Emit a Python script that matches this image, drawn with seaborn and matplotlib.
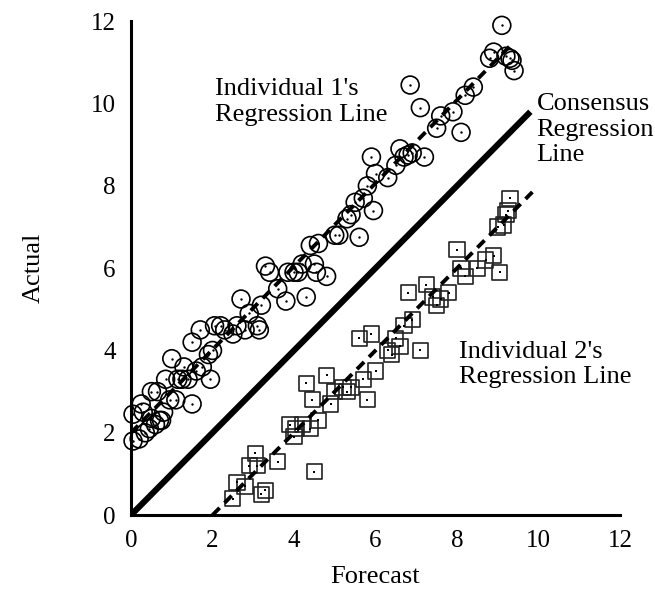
import matplotlib
matplotlib.use("Agg")
import matplotlib.pyplot as plt
import seaborn as sns
import pandas as pd

sns.set_theme(style="white")
plt.rcParams['font.family'] = ['Liberation Serif', 'DejaVu Serif']
plt.rcParams['text.color'] = 'black'
plt.rcParams['axes.labelcolor'] = 'black'
plt.rcParams['xtick.color'] = 'black'
plt.rcParams['ytick.color'] = 'black'

# Individual 1 (circles)
ind1_x = [0.05, 0.05, 0.2, 0.25, 0.3, 0.35, 0.45, 0.5, 0.5, 0.6, 0.65, 0.7, 0.75, 0.8, 0.85,
          0.95, 1.0, 1.1, 1.15, 1.25, 1.3, 1.4, 1.5, 1.5, 1.6, 1.7, 1.75, 1.9, 1.95, 2.0,
          2.05, 2.2, 2.3, 2.5, 2.6, 2.7, 2.8, 2.9, 3.1, 3.15, 3.2, 3.3, 3.4, 3.6, 3.8,
          3.85, 4.0, 4.1, 4.2, 4.3, 4.4, 4.5, 4.55, 4.6, 4.8, 5.0, 5.1, 5.3, 5.4, 5.5,
          5.6, 5.7, 5.8, 5.9, 5.95, 6.0, 6.3, 6.5, 6.6, 6.7, 6.8, 6.85, 6.9, 7.1, 7.2,
          7.5, 7.6, 7.9, 8.1, 8.2, 8.4, 8.8, 8.9, 9.1, 9.2, 9.3, 9.35, 9.4]
ind1_y = [1.8, 2.45, 1.85, 2.7, 2.5, 2.0, 2.1, 3.0, 2.35, 2.2, 3.0, 2.3, 2.3, 2.5, 3.3,
          2.8, 3.8, 2.8, 3.3, 3.3, 3.6, 3.3, 4.2, 2.7, 3.5, 4.5, 3.6, 3.9, 3.3, 4.0,
          4.6, 4.6, 4.5, 4.4, 4.6, 5.25, 4.5, 4.9, 4.6, 4.5, 5.1, 6.05, 5.9, 5.5, 5.2,
          5.9, 5.9, 5.9, 6.1, 5.3, 6.55, 6.1, 5.9, 6.6, 5.8, 6.8, 6.8, 7.2, 7.3, 7.6,
          6.75, 7.7, 8.0, 8.7, 7.4, 8.3, 8.2, 8.5, 8.9, 8.7, 8.75, 10.45, 8.8, 9.9, 8.7,
          9.4, 9.7, 9.8, 9.3, 10.2, 10.4, 11.1, 11.25, 11.9, 11.15, 11.1, 11.05, 10.8]

# Individual 2 (squares)
ind2_x = [2.5, 2.6, 2.8, 2.9, 3.05, 3.1, 3.2, 3.3, 3.6, 3.9, 4.0, 4.05, 4.2, 4.3, 4.4,
          4.45, 4.5, 4.6, 4.8, 4.9, 5.0, 5.2, 5.3, 5.4, 5.6, 5.7, 5.8, 5.9, 6.0, 6.3,
          6.4, 6.5, 6.6, 6.7, 6.8, 6.9, 7.1, 7.25, 7.4, 7.5, 7.6, 7.8, 8.0, 8.1, 8.2,
          8.5, 8.7, 8.9, 9.0, 9.05, 9.15, 9.2, 9.25, 9.3]
ind2_y = [0.4, 0.8, 0.7, 1.2, 1.5, 1.2, 0.5, 0.6, 1.3, 2.2, 1.9, 2.1, 2.2, 3.2, 2.1,
          2.8, 1.05, 2.3, 3.4, 2.7, 3.0, 3.1, 3.0, 3.1, 4.3, 3.3, 2.8, 4.4, 3.5, 4.0,
          3.9, 4.3, 4.1, 4.6, 5.4, 4.75, 4.0, 5.6, 5.3, 5.1, 5.25, 5.4, 6.45, 6.0, 5.8,
          6.0, 6.2, 6.3, 7.0, 5.9, 7.05, 7.3, 7.4, 7.7]

# Regression lines (endpoints)
cons_x = [0.0, 9.8]
cons_y = [0.0, 9.8]
reg1_x = [0.0, 9.35]
reg1_y = [2.0, 11.45]
reg2_x = [2.0, 9.85]
reg2_y = [0.0, 7.85]

ticks = [0, 2, 4, 6, 8, 10, 12]

fig = plt.figure(figsize=(6.55, 5.9), dpi=100)
ax = fig.add_axes([0.2, 0.127, 0.7466, 0.837])

d1 = pd.DataFrame({"x": ind1_x, "y": ind1_y})
d2 = pd.DataFrame({"x": ind2_x, "y": ind2_y})

sns.scatterplot(data=d1, x="x", y="y", ax=ax, marker="o", s=165, facecolor="none",
                edgecolor="black", linewidth=1.2, clip_on=False, zorder=3)
sns.scatterplot(data=d1, x="x", y="y", ax=ax, marker="o", s=3, color="black",
                linewidth=0, clip_on=False, zorder=4)
sns.scatterplot(data=d2, x="x", y="y", ax=ax, marker="s", s=120, facecolor="none",
                edgecolor="#222222", linewidth=1.2, clip_on=False, zorder=3)
sns.scatterplot(data=d2, x="x", y="y", ax=ax, marker="s", s=2, color="black",
                linewidth=0, clip_on=False, zorder=4)

sns.lineplot(x=cons_x, y=cons_y, ax=ax, color="black", linewidth=4.4, zorder=5)
ax.lines[-1].set_solid_capstyle("butt")
sns.lineplot(x=reg1_x, y=reg1_y, ax=ax, color="black", linewidth=2.8, zorder=5)
ax.lines[-1].set_dashes([2.6, 1.8])
sns.lineplot(x=reg2_x, y=reg2_y, ax=ax, color="black", linewidth=2.8, zorder=5)
ax.lines[-1].set_dashes([2.6, 1.8])

ax.set_xlim(0, 12)
ax.set_ylim(0, 12)
ax.set_xticks(ticks)
ax.set_yticks(ticks)
ax.set_xticklabels([str(t) for t in ticks])
ax.set_yticklabels([str(t) for t in ticks])
for s in ["top", "right"]:
    ax.spines[s].set_visible(False)
for s in ["left", "bottom"]:
    ax.spines[s].set_linewidth(2.2)
    ax.spines[s].set_color("black")
ax.tick_params(direction="in", length=11, width=2, colors="black", labelsize=18,
               pad=11)
ax.set_xlabel("Forecast", fontsize=19, labelpad=10, color="black")
ax.set_ylabel("Actual", fontsize=19, labelpad=33, color="black")

ax.text(2.05, 10.61, "Individual 1's\nRegression Line", fontsize=19, va="top",
        ha="left", linespacing=1.2, color="black")
ax.text(9.95, 10.25, "Consensus\nRegression\nLine", fontsize=19, va="top",
        ha="left", linespacing=1.2, color="black")
ax.text(8.05, 4.23, "Individual 2's\nRegression Line", fontsize=19, va="top",
        ha="left", linespacing=1.2, color="black")

fig.savefig("out.png", dpi=100)
